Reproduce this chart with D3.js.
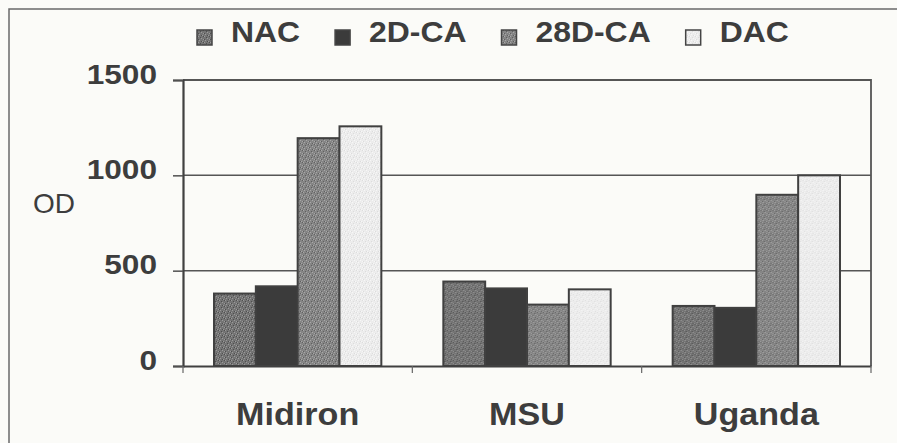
<!DOCTYPE html>
<html>
<head>
<meta charset="utf-8">
<script src="https://cdn.jsdelivr.net/npm/d3@7"></script>
<style>
  html, body { margin: 0; padding: 0; background: #fbfbf8; }
  svg { display: block; }
  text { font-family: "Liberation Sans", Arial, sans-serif; fill: #3d3d3d; }
</style>
</head>
<body>
<svg id="chart" width="897" height="443"></svg>
<script>
// Varieties on the x axis and the four treatments
const categories = ["Midiron", "MSU", "Uganda"];
const seriesNames = ["NAC", "2D-CA", "28D-CA", "DAC"];

// OD readings per treatment, one value per variety
const nacValues   = [380, 443, 315];
const ca2dValues  = [418, 407, 305];
const ca28dValues = [1195, 322, 898];
const dacValues   = [1257, 402, 1000];

const yTicks = [0, 500, 1000, 1500];

const seriesValues = [nacValues, ca2dValues, ca28dValues, dacValues];
const rows = categories.map((c, i) => ({
  category: c,
  values: seriesNames.map((s, j) => ({ series: s, value: seriesValues[j][i] }))
}));

const svg = d3.select("#chart");
const W = 897, H = 443;
const plot = { left: 183, right: 871, top: 80, bottom: 366 };

// textures for the shaded bars
const defs = svg.append("defs");
function grain(id, base, light, dark) {
  const p = defs.append("pattern").attr("id", id)
    .attr("patternUnits", "userSpaceOnUse").attr("width", 6).attr("height", 6);
  p.append("rect").attr("width", 6).attr("height", 6).attr("fill", base);
  [[0,0],[3,2],[1,4],[5,3],[4,5]].forEach(([x, y]) =>
    p.append("rect").attr("x", x).attr("y", y).attr("width", 1).attr("height", 1).attr("fill", light));
  [[2,1],[5,0],[0,3],[3,5]].forEach(([x, y]) =>
    p.append("rect").attr("x", x).attr("y", y).attr("width", 1).attr("height", 1).attr("fill", dark));
}
grain("gNAC", "#747474", "#9a9a9a", "#4e4e4e");
grain("g28", "#858585", "#a8a8a8", "#606060");
grain("gDAC", "#ececec", "#f7f7f7", "#dcdcdc");

const fills = {
  "NAC": "url(#gNAC)",
  "2D-CA": "#3b3b3b",
  "28D-CA": "url(#g28)",
  "DAC": "url(#gDAC)"
};

// place a horizontally widened label at (x, y)
function wideText(sel, x, y, sx) {
  return sel.attr("x", 0).attr("y", 0)
    .attr("transform", `translate(${x},${y}) scale(${sx},1)`);
}

// outer chart frame
svg.append("path")
  .attr("d", `M9,${H} L9,9 L${W},9`)
  .attr("fill", "none").attr("stroke", "#6a6a6a").attr("stroke-width", 1.5);

// scales
const x0 = d3.scaleBand().domain(categories).range([plot.left, plot.right]).padding(0);
const inset = 31;
const x1 = d3.scaleBand().domain(seriesNames).range([inset, x0.bandwidth() - inset]).padding(0);
const y = d3.scaleLinear().domain([0, 1500]).range([plot.bottom, plot.top]);

// gridlines
svg.append("g").selectAll("line")
  .data(yTicks.filter(t => t > 0 && t < 1500))
  .join("line")
  .attr("x1", plot.left).attr("x2", plot.right)
  .attr("y1", d => y(d)).attr("y2", d => y(d))
  .attr("stroke", "#555").attr("stroke-width", 1.5);

// plot frame (top and right)
svg.append("path")
  .attr("d", `M${plot.left},${plot.top} L${plot.right},${plot.top} L${plot.right},${plot.bottom}`)
  .attr("fill", "none").attr("stroke", "#555").attr("stroke-width", 1.8);

// bars
const groups = svg.append("g").selectAll("g")
  .data(rows).join("g")
  .attr("transform", d => `translate(${x0(d.category)},0)`);

groups.selectAll("rect")
  .data(d => d.values).join("rect")
  .attr("x", d => x1(d.series))
  .attr("width", x1.bandwidth())
  .attr("y", d => y(d.value))
  .attr("height", d => y(0) - y(d.value))
  .attr("fill", d => fills[d.series])
  .attr("stroke", "#404040").attr("stroke-width", 2);

// y axis
const yAxis = svg.append("g")
  .attr("transform", `translate(${plot.left},0)`)
  .call(d3.axisLeft(y).tickValues(yTicks).tickSize(10).tickPadding(0).tickFormat(d3.format("d")));
yAxis.select(".domain").attr("stroke", "#404040").attr("stroke-width", 2.2);
yAxis.selectAll(".tick line").attr("stroke", "#505050").attr("stroke-width", 1.5);
yAxis.selectAll(".tick text")
  .attr("dy", null)
  .attr("fill", "#3d3d3d")
  .style("font-size", "28px").style("font-weight", "bold")
  .call(s => wideText(s, -26, 3, 1.13));

// x axis
const xAxis = svg.append("g")
  .attr("transform", `translate(0,${plot.bottom})`)
  .call(d3.axisBottom(x0).tickSize(0).tickPadding(0).tickFormat(""));
xAxis.select(".domain").attr("stroke", "#404040").attr("stroke-width", 2.2);
xAxis.selectAll(".tick").remove();

// band boundary ticks below the axis
const bounds = categories.map(c => x0(c)).concat([plot.right]);
svg.append("g").selectAll("line").data(bounds).join("line")
  .attr("x1", d => d).attr("x2", d => d)
  .attr("y1", plot.bottom).attr("y2", plot.bottom + 7)
  .attr("stroke", "#666").attr("stroke-width", 1.2);

// category labels
svg.append("g").selectAll("text").data(categories).join("text")
  .attr("text-anchor", "middle")
  .style("font-size", "31px").style("font-weight", "bold")
  .text(d => d)
  .each(function(d) { wideText(d3.select(this), x0(d) + x0.bandwidth() / 2, 425, 1.1); });

// y axis title
svg.append("text")
  .attr("x", 33).attr("y", 213)
  .style("font-size", "28px")
  .text("OD");

// legend, laid out left to right
const legend = svg.append("g");
let lx = 197;
seriesNames.forEach(s => {
  legend.append("rect")
    .attr("x", lx).attr("y", 30).attr("width", 15).attr("height", 15)
    .attr("fill", fills[s]).attr("stroke", "#454545").attr("stroke-width", 1.5);
  const t = legend.append("text")
    .style("font-size", "29px").style("font-weight", "bold")
    .text(s);
  wideText(t, lx + 34, 42, 1.1);
  lx = lx + 34 + t.node().getComputedTextLength() * 1.1 + 35;
});
</script>
</body>
</html>
